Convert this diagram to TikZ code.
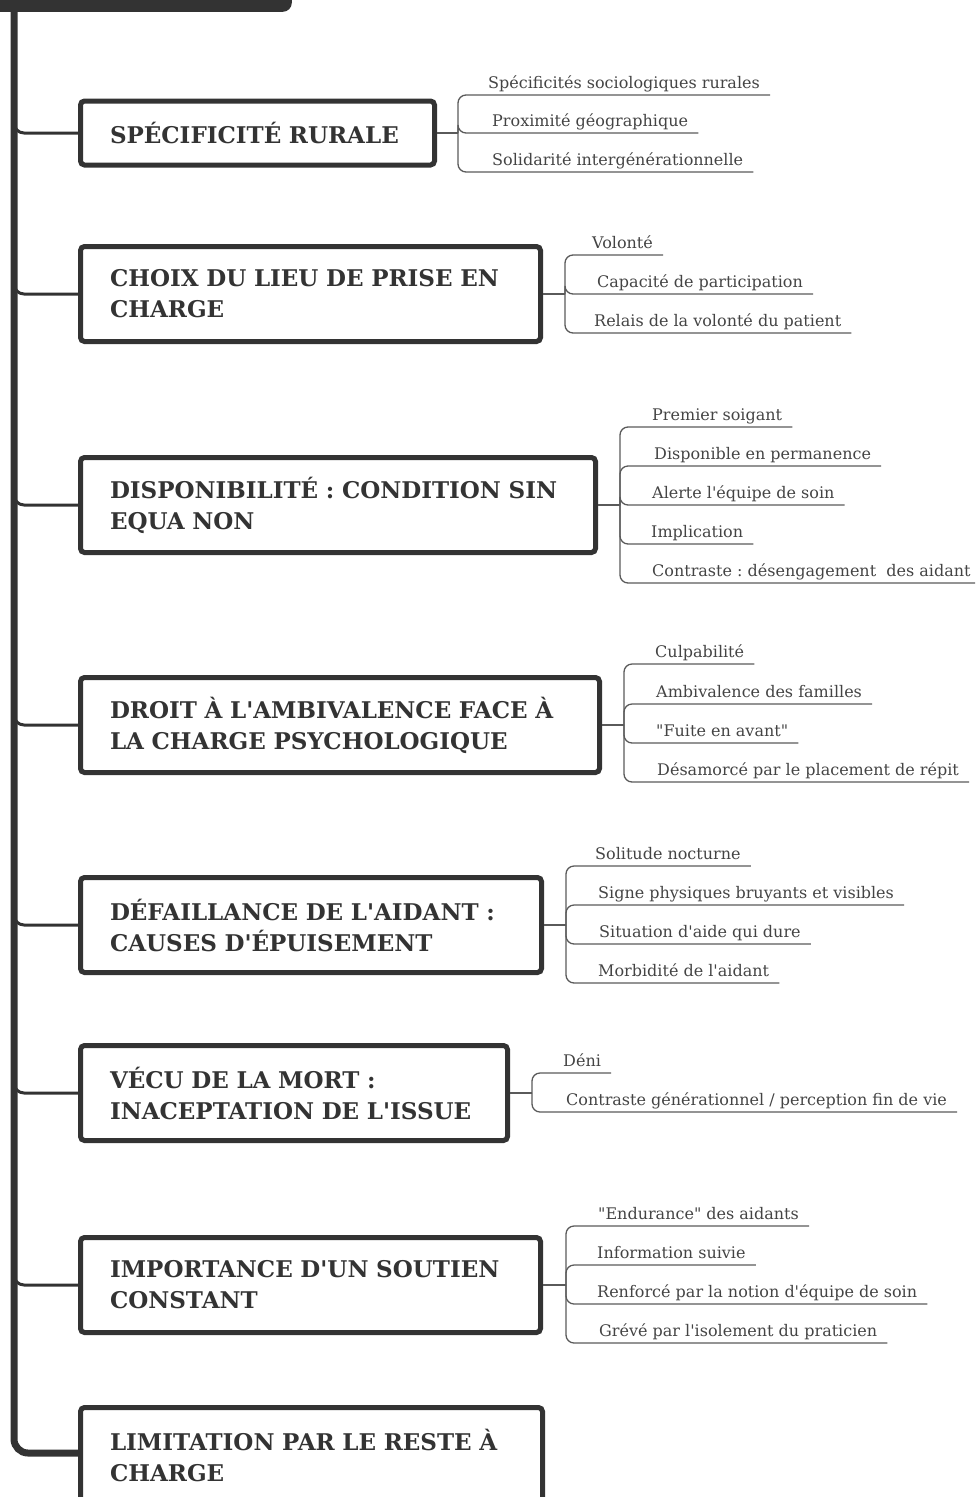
\documentclass[tikz,border=0pt]{standalone}
\usepackage{fontspec}
\setmainfont{DejaVu Serif}[Ligatures=TeXOff]
\frenchspacing
\definecolor{ink}{HTML}{333333}
\definecolor{twiggray}{HTML}{5A5A5A}
\definecolor{leafink}{HTML}{444444}
\tikzset{
  topic/.style={draw=ink, line width=5pt, rounded corners=4pt, anchor=west, align=left,
    inner xsep=29.5pt, minimum height=95pt, text=ink,
    font=\bfseries\fontsize{23}{31}\selectfont},
  leaf/.style={anchor=south west, inner xsep=0pt, inner ysep=2pt, text depth=4.5pt,
    text=leafink, font=\fontsize{16}{18}\selectfont},
  trunk/.style={draw=ink, line width=7pt, rounded corners=14pt},
  branch/.style={draw=ink, line width=3pt, rounded corners=10pt},
  twig/.style={draw=twiggray, line width=1.3pt, rounded corners=8pt},
}
\begin{document}
\begin{tikzpicture}[x=1pt, y=-1pt]
    \path[use as bounding box, clip] (0,0) rectangle (975,1497);
    % root topic, cut off at the top
    \node[fill=ink, rounded corners=9pt, minimum width=330pt, minimum height=40pt,
      anchor=south east, inner sep=0pt] (root) at (292,12) {};
    % main topics
    \node[topic, text width=295pt, minimum height=64pt] (t1) at (78,133) {SPÉCIFICITÉ RURALE};
    \node[topic, text width=401pt] (t2) at (78,294) {CHOIX DU LIEU DE PRISE EN\\CHARGE};
    \node[topic, text width=456pt] (t3) at (78,505) {DISPONIBILITÉ : CONDITION SIN\\EQUA NON};
    \node[topic, text width=460pt] (t4) at (78,725) {DROIT À L'AMBIVALENCE FACE À\\LA CHARGE PSYCHOLOGIQUE};
    \node[topic, text width=402pt] (t5) at (78,925) {DÉFAILLANCE DE L'AIDANT :\\CAUSES D'ÉPUISEMENT};
    \node[topic, text width=368pt] (t6) at (78,1093) {VÉCU DE LA MORT :\\INACEPTATION DE L'ISSUE};
    \node[topic, text width=401pt] (t7) at (78,1285) {IMPORTANCE D'UN SOUTIEN\\CONSTANT};
    \node[topic, text width=403pt] (t8) at (78,1455) {LIMITATION PAR LE RESTE À\\CHARGE};
    % branches from the trunk
    \draw[branch] (14,119) |- (t1.west);
    \draw[branch] (14,280) |- (t2.west);
    \draw[branch] (14,491) |- (t3.west);
    \draw[branch] (14,711) |- (t4.west);
    \draw[branch] (14,911) |- (t5.west);
    \draw[branch] (14,1079) |- (t6.west);
    \draw[branch] (14,1271) |- (t7.west);
    \draw[trunk] (14,0) -- (14,1453) -- (t8.west |- 0,1453);
    % subtopics
    \coordinate (b1) at (458,133);
    \node[leaf] (l11) at (488,95) {Spécificités sociologiques rurales};
    \node[leaf] (l12) at (492,133) {Proximité géographique};
    \node[leaf] (l13) at (492,172) {Solidarité intergénérationnelle};
    \coordinate (b2) at (565,294);
    \node[leaf] (l21) at (592,255) {Volonté};
    \node[leaf] (l22) at (597,294) {Capacité de participation};
    \node[leaf] (l23) at (594,333) {Relais de la volonté du patient};
    \coordinate (b3) at (620,505);
    \node[leaf] (l31) at (652,427) {Premier soigant};
    \node[leaf] (l32) at (654,466) {Disponible en permanence};
    \node[leaf] (l33) at (652,505) {Alerte l'équipe de soin};
    \node[leaf] (l34) at (651,544) {Implication};
    \node[leaf] (l35) at (652,583) {Contraste : désengagement~ des aidant};
    \coordinate (b4) at (624,725);
    \node[leaf] (l41) at (655,664) {Culpabilité};
    \node[leaf] (l42) at (656,704) {Ambivalence des familles};
    \node[leaf] (l43) at (656,743) {"Fuite en avant"};
    \node[leaf] (l44) at (657,782) {Désamorcé par le placement de répit};
    \coordinate (b5) at (566,925);
    \node[leaf] (l51) at (595,866) {Solitude nocturne};
    \node[leaf] (l52) at (598,905) {Signe physiques bruyants et visibles};
    \node[leaf] (l53) at (599,944) {Situation d'aide qui dure};
    \node[leaf] (l54) at (598,983) {Morbidité de l'aidant};
    \coordinate (b6) at (532,1093);
    \node[leaf] (l61) at (563,1073) {Déni};
    \node[leaf] (l62) at (566,1112) {Contraste générationnel / perception fin de vie};
    \coordinate (b7) at (566,1285);
    \node[leaf] (l71) at (598,1226) {"Endurance" des aidants};
    \node[leaf] (l72) at (597,1265) {Information suivie};
    \node[leaf] (l73) at (597,1304) {Renforcé par la notion d'équipe de soin};
    \node[leaf] (l74) at (599,1343) {Grévé par l'isolement du praticien};
    % twigs
    \draw[twig] (t1.east) -- (b1);
    \draw[twig] (b1) |- ([xshift=10pt]l11.south east);
    \draw[twig] (b1) |- ([xshift=10pt]l12.south east);
    \draw[twig] (b1) |- ([xshift=10pt]l13.south east);
    \draw[twig] (t2.east) -- (b2);
    \draw[twig] (b2) |- ([xshift=10pt]l21.south east);
    \draw[twig] (b2) |- ([xshift=10pt]l22.south east);
    \draw[twig] (b2) |- ([xshift=10pt]l23.south east);
    \draw[twig] (t3.east) -- (b3);
    \draw[twig] (b3) |- ([xshift=10pt]l31.south east);
    \draw[twig] (b3) |- ([xshift=10pt]l32.south east);
    \draw[twig] (b3) |- ([xshift=10pt]l33.south east);
    \draw[twig] (b3) |- ([xshift=10pt]l34.south east);
    \draw[twig] (b3) |- ([xshift=10pt]l35.south east);
    \draw[twig] (t4.east) -- (b4);
    \draw[twig] (b4) |- ([xshift=10pt]l41.south east);
    \draw[twig] (b4) |- ([xshift=10pt]l42.south east);
    \draw[twig] (b4) |- ([xshift=10pt]l43.south east);
    \draw[twig] (b4) |- ([xshift=10pt]l44.south east);
    \draw[twig] (t5.east) -- (b5);
    \draw[twig] (b5) |- ([xshift=10pt]l51.south east);
    \draw[twig] (b5) |- ([xshift=10pt]l52.south east);
    \draw[twig] (b5) |- ([xshift=10pt]l53.south east);
    \draw[twig] (b5) |- ([xshift=10pt]l54.south east);
    \draw[twig] (t6.east) -- (b6);
    \draw[twig] (b6) |- ([xshift=10pt]l61.south east);
    \draw[twig] (b6) |- ([xshift=10pt]l62.south east);
    \draw[twig] (t7.east) -- (b7);
    \draw[twig] (b7) |- ([xshift=10pt]l71.south east);
    \draw[twig] (b7) |- ([xshift=10pt]l72.south east);
    \draw[twig] (b7) |- ([xshift=10pt]l73.south east);
    \draw[twig] (b7) |- ([xshift=10pt]l74.south east);
\end{tikzpicture}
\end{document}
